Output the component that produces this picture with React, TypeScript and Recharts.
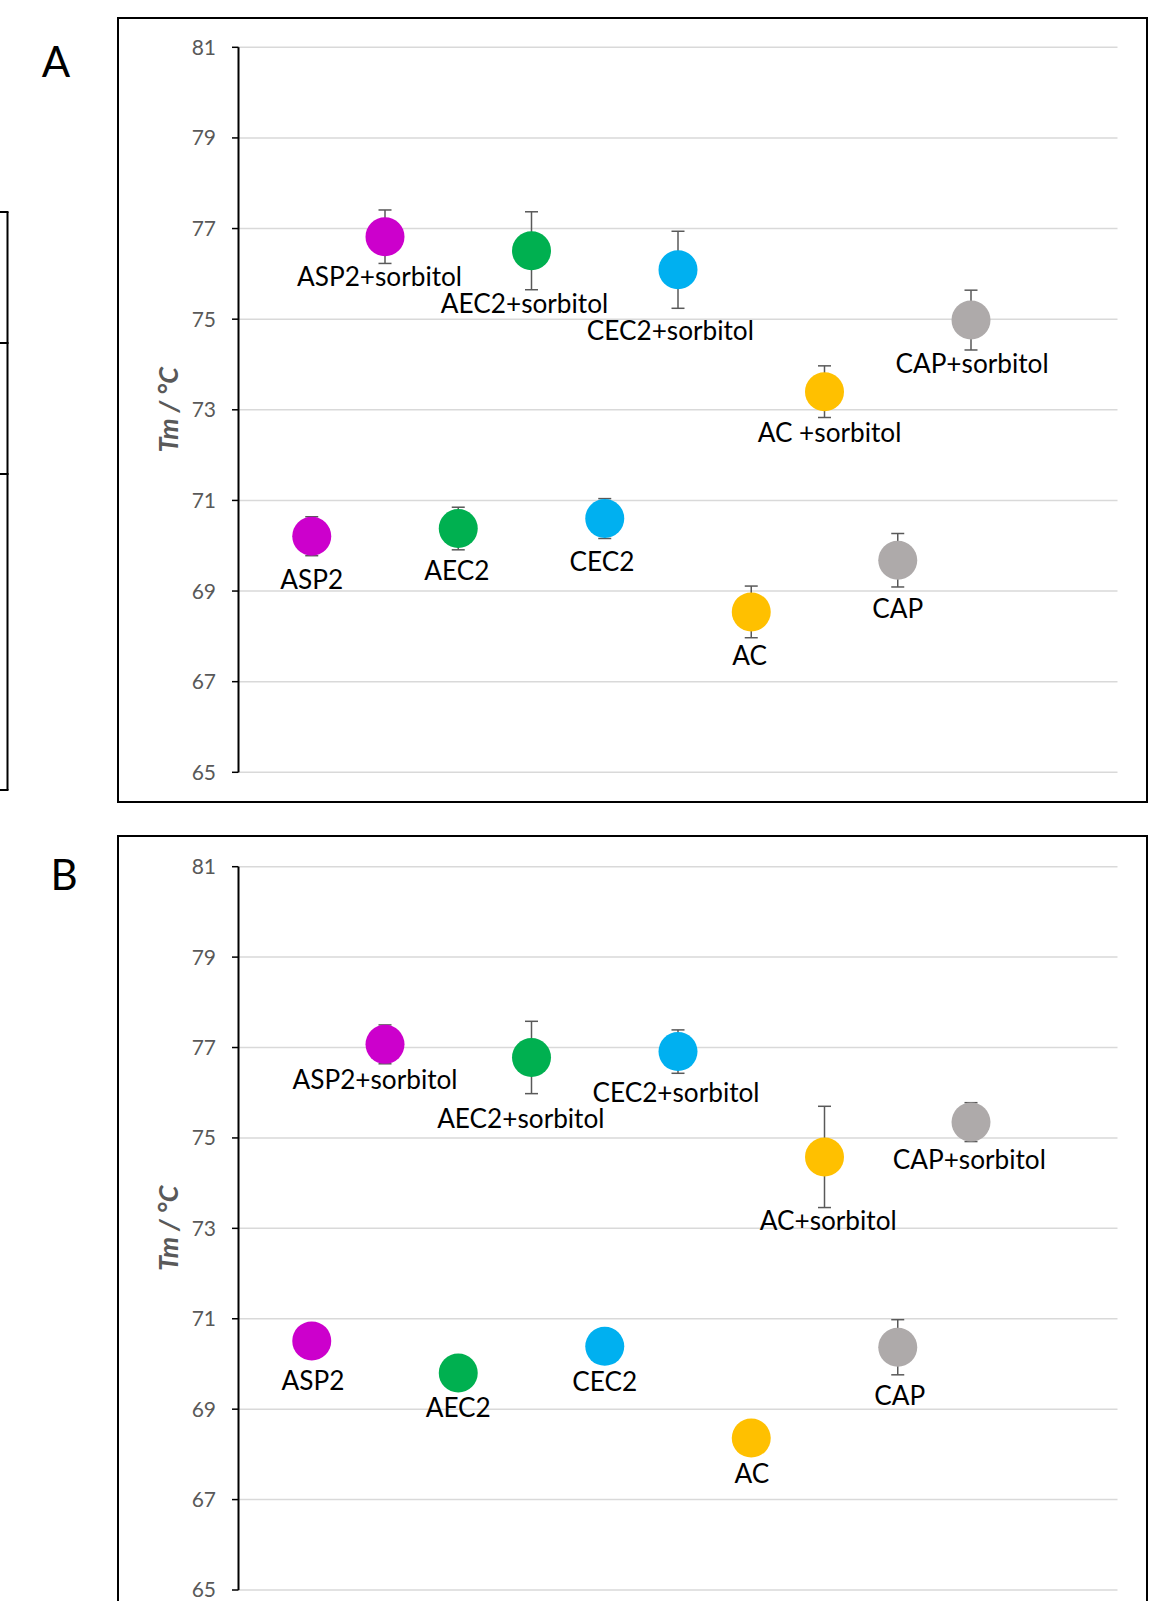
import React from 'react';
import { ScatterChart, Scatter, XAxis, YAxis, CartesianGrid, ErrorBar } from 'recharts';

// x position of each sample along the hidden category axis (0..12)
const xIndex = [1, 2, 3, 4, 5, 6, 7, 8, 9, 10];

const labelsA = ['ASP2', 'ASP2+sorbitol', 'AEC2', 'AEC2+sorbitol', 'CEC2', 'CEC2+sorbitol', 'AC', 'AC +sorbitol', 'CAP', 'CAP+sorbitol'];
const labelsB = ['ASP2', 'ASP2+sorbitol', 'AEC2', 'AEC2+sorbitol', 'CEC2', 'CEC2+sorbitol', 'AC', 'AC+sorbitol', 'CAP', 'CAP+sorbitol'];

// Tm (°C) and error
const tmA = [70.21, 76.82, 70.38, 76.51, 70.6, 76.09, 68.54, 73.4, 69.68, 74.98];
const errA = [0.43, 0.59, 0.47, 0.86, 0.44, 0.85, 0.57, 0.57, 0.59, 0.66];
const tmB = [70.51, 77.07, 69.8, 76.78, 70.39, 76.91, 68.36, 74.58, 70.37, 75.35];
const errB = [0.2, 0.43, 0.2, 0.8, 0.2, 0.48, 0.2, 1.12, 0.61, 0.43];

const yTicks = [65, 67, 69, 71, 73, 75, 77, 79, 81];

const colors = ['#CC00CC', '#CC00CC', '#00B050', '#00B050', '#00B0F0', '#00B0F0', '#FFC000', '#FFC000', '#AEAAAA', '#AEAAAA'];

// label placement relative to marker centre (px)
const labelDxA = [0, -5.5, -1.4, -7, -2.7, -7.7, -1.7, 5, 0, 1];
const labelDyA = [52.3, 49.3, 51.3, 62.6, 52, 70, 53.3, 50, 57.3, 52.7];
const labelDxB = [1.3, -10, 0, -10.7, 0, -2, 0.7, 3.7, 2, -1.7];
const labelDyB = [49, 45, 43.7, 71, 44.3, 50, 44.7, 72.7, 58, 47];

const FONT = 'Lato, "Open Sans", sans-serif';

const buildRows = (tm: number[], err: number[], labels: string[], dx: number[], dy: number[]) =>
    xIndex.map((x, i) => ({
        x,
        y: tm[i],
        err: err[i],
        name: labels[i],
        color: colors[i],
        ldx: dx[i],
        ldy: dy[i],
    }));

const dataA = buildRows(tmA, errA, labelsA, labelDxA, labelDyA);
const dataB = buildRows(tmB, errB, labelsB, labelDxB, labelDyB);

const Marker = (props: any) => {
    const { cx, cy, payload } = props;
    return (
        <g>
            <circle cx={cx} cy={cy} r={19.5} fill={payload.color} />
            <text
                x={cx + payload.ldx}
                y={cy + payload.ldy}
                textAnchor="middle"
                fontFamily={FONT}
                fontSize={26.2}
                fill="#000"
            >
                {payload.name}
            </text>
        </g>
    );
};

interface PanelProps {
    data: any[];
    top: number;
    height: number;
    margin: { top: number; right: number; bottom: number; left: number };
}

function Panel({ data, top, height, margin }: PanelProps) {
    return (
        <div style={{ position: 'absolute', left: 0, top }}>
            <ScatterChart width={1149} height={height} margin={margin}>
                <CartesianGrid vertical={false} stroke="#d9d9d9" strokeWidth={1.5} />
                <XAxis type="number" dataKey="x" domain={[0, 12]} hide />
                <YAxis
                    type="number"
                    dataKey="y"
                    domain={[65, 81]}
                    ticks={yTicks}
                    interval={0}
                    width={140}
                    axisLine={{ stroke: '#000', strokeWidth: 2 }}
                    tickLine={{ stroke: '#000', strokeWidth: 1.5 }}
                    tickSize={6.5}
                    tickMargin={16}
                    tick={{ fontSize: 21, fill: '#595959', fontFamily: FONT }}
                    label={{
                        value: 'Tm / °C',
                        angle: -90,
                        position: 'center',
                        style: { fontSize: 27, fontWeight: 700, fontStyle: 'italic', fill: '#595959', fontFamily: FONT },
                    }}
                />
                <Scatter data={data} shape={Marker} isAnimationActive={false}>
                    <ErrorBar dataKey="err" direction="y" width={6.5} stroke="#595959" strokeWidth={1.5} isAnimationActive={false} />
                </Scatter>
            </ScatterChart>
        </div>
    );
}

export default function App() {
    return (
        <div style={{ position: 'absolute', left: 0, top: 0, width: 1149, height: 1601, overflow: 'hidden', background: '#fff' }}>
            {/* cut-off table edge on the left */}
            <svg width={20} height={820} style={{ position: 'absolute', left: 0, top: 0 }}>
                <line x1={7.5} y1={212} x2={7.5} y2={790} stroke="#000" strokeWidth={2} />
                {[212, 343, 474, 790].map(y => (
                    <line key={y} x1={0} y1={y} x2={8.5} y2={y} stroke="#000" strokeWidth={2} />
                ))}
            </svg>

            <div style={{ position: 'absolute', left: 117, top: 17, width: 1031, height: 786, border: '2px solid #000', boxSizing: 'border-box' }} />
            <div style={{ position: 'absolute', left: 117, top: 835, width: 1031, height: 800, border: '2px solid #000', boxSizing: 'border-box' }} />

            <svg width={120} height={1601} style={{ position: 'absolute', left: 0, top: 0 }}>
                <text x={56} y={76.7} textAnchor="middle" fontFamily={FONT} fontSize={42} fill="#000">A</text>
                <text x={64} y={890} textAnchor="middle" fontFamily={FONT} fontSize={42} fill="#000">B</text>
            </svg>

            <Panel data={dataA} top={0} height={802} margin={{ top: 47.3, right: 31.5, bottom: 29.7, left: 98.5 }} />
            <Panel data={dataB} top={819} height={800} margin={{ top: 47.7, right: 31.5, bottom: 29, left: 98.5 }} />
        </div>
    );
}
